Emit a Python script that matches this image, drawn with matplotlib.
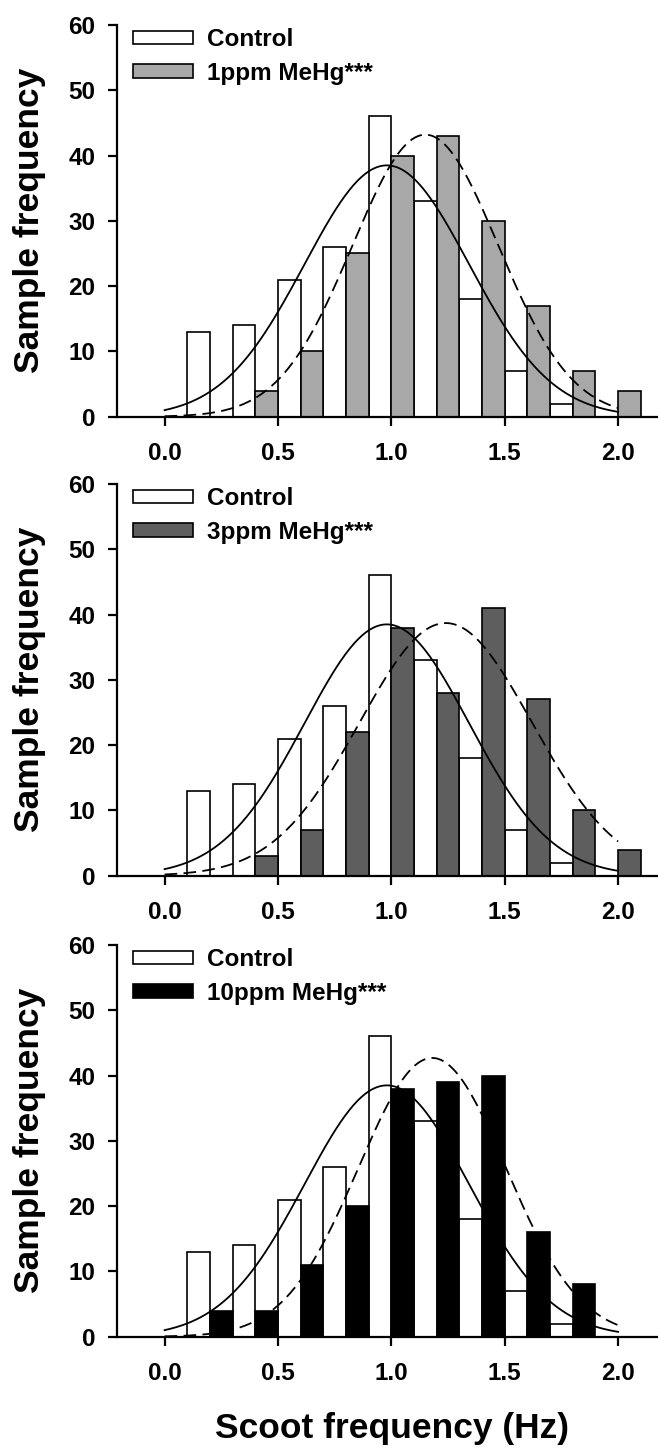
import numpy as np
import matplotlib
matplotlib.use('Agg')
import matplotlib.pyplot as plt

plt.rcParams['font.family'] = ['Liberation Sans', 'DejaVu Sans']
plt.rcParams['font.weight'] = 'bold'

# histogram bins (Hz) and counts
bins = [0.2, 0.4, 0.6, 0.8, 1.0, 1.2, 1.4, 1.6, 1.8, 2.0]
control = [13, 14, 21, 26, 46, 33, 18, 7, 2, 0]
treat_1ppm = [0, 4, 10, 25, 40, 43, 30, 17, 7, 4]
treat_3ppm = [0, 3, 7, 22, 38, 28, 41, 27, 10, 4]
treat_10ppm = [4, 4, 11, 20, 38, 39, 40, 16, 8, 0]

labels = ['1ppm MeHg***', '3ppm MeHg***', '10ppm MeHg***']
colors = ['#a8a8a8', '#5e5e5e', '#000000']

# fitted normal curves: peak height, mean, sd
control_fit = (38.5, 0.98, 0.363)
treat_fits = [(43.2, 1.15, 0.322), (38.7, 1.24, 0.38), (42.7, 1.18, 0.325)]

fig = plt.figure(figsize=(6.58, 14.48), dpi=100)
H = 1448.0
W = 658.0
left = 117 / W
width = 541 / W
tops = [25, 484, 945]
ax_h = 391.7

width_bar = 0.1
x = np.array(bins)
xs = np.linspace(0, 2.0, 300)


def gauss(p, xv):
    a, m, s = p
    return a * np.exp(-(xv - m) ** 2 / (2 * s ** 2))


for i, treat in enumerate([treat_1ppm, treat_3ppm, treat_10ppm]):
    bottom = 1 - (tops[i] + ax_h) / H
    ax = fig.add_axes([left, bottom, width, ax_h / H])

    ax.bar(x - width_bar / 2, control, width_bar, color='white', edgecolor='black',
           linewidth=1.2, label='Control', zorder=2)
    ax.bar(x + width_bar / 2, treat, width_bar, color=colors[i], edgecolor='black',
           linewidth=1.2, label=labels[i], zorder=2)

    ax.plot(xs, gauss(control_fit, xs), color='black', lw=1.3, zorder=3)
    ax.plot(xs, gauss(treat_fits[i], xs), color='black', lw=1.3, dashes=(7, 3.5), zorder=3)

    ax.set_xlim(-0.21, 2.176)
    ax.set_ylim(0, 60)
    ax.set_xticks([0.0, 0.5, 1.0, 1.5, 2.0])
    ax.set_xticklabels(['0.0', '0.5', '1.0', '1.5', '2.0'])
    ax.set_yticks(np.arange(0, 61, 10))
    ax.spines['top'].set_visible(False)
    ax.spines['right'].set_visible(False)
    ax.spines['left'].set_linewidth(1.6)
    ax.spines['bottom'].set_linewidth(1.6)
    ax.tick_params(axis='both', direction='out', length=6.5, width=1.6, labelsize=17.5)
    ax.tick_params(axis='x', pad=12)
    ax.tick_params(axis='y', pad=9)

    ax.legend(loc='upper left', bbox_to_anchor=(0.03, 0.992), frameon=False,
              fontsize=17.5, handlelength=2.44, handleheight=0.48,
              handletextpad=0.58, labelspacing=0.43, borderpad=0, borderaxespad=0)

    fig.text(30 / W, 1 - (tops[i] + ax_h / 2) / H, 'Sample frequency', rotation=90,
             ha='center', va='center', fontsize=25.5, fontweight='bold')

fig.text(391.6 / W, 1 - 1438 / H, 'Scoot frequency (Hz)', ha='center', va='baseline',
         fontsize=25.5, fontweight='bold')

fig.savefig('out.png', dpi=100)
